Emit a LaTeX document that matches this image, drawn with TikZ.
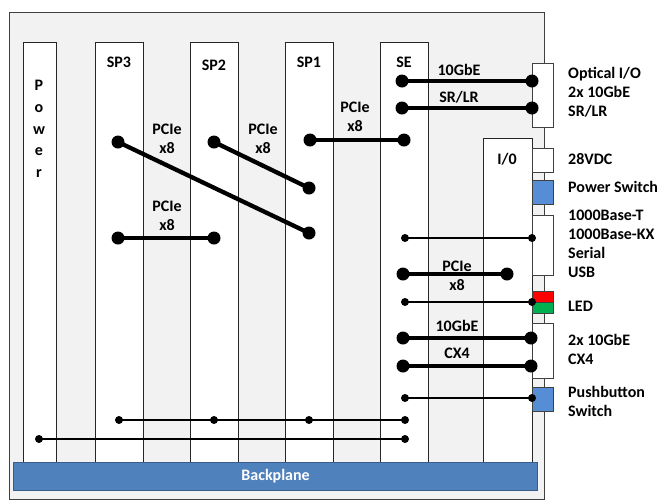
\documentclass[tikz,border=0pt]{standalone}
\usepackage{fontspec}
\setmainfont{Carlito}

\definecolor{chassis}{HTML}{F2F2F2}
\definecolor{bpblue}{HTML}{4F81BD}
\definecolor{bpedge}{HTML}{385D8A}
\definecolor{swblue}{HTML}{558ED5}
\definecolor{ledred}{HTML}{FF0000}
\definecolor{ledgreen}{HTML}{00B050}

\begin{document}
\begin{tikzpicture}[x=1pt,y=-1pt,
  font=\fontsize{16}{19}\selectfont\bfseries,
  slot/.style={draw=black!85,fill=white,line width=0.9pt,anchor=north west,inner sep=0pt},
  port/.style={draw=black!75,fill=white,line width=0.9pt,anchor=north west,inner sep=0pt,minimum width=21},
  bus/.style={line width=4.3pt},
  wire/.style={line width=1.8pt},
  txt/.style={inner sep=0pt,align=center},
  side/.style={inner sep=0pt,anchor=west,align=left}]
  \useasboundingbox (0,0) rectangle (658,499);

  % 1. The chassis
  \draw[fill=chassis,draw=black!75,line width=1pt] (9,12) rectangle (544,499);

  % 2. The slots
  \node[slot,minimum width=33,minimum height=420] (power) at (23,42) {};
  \node[slot,minimum width=48,minimum height=420] (sp3) at (95,42) {};
  \node[slot,minimum width=48,minimum height=420] (sp2) at (190,42) {};
  \node[slot,minimum width=48,minimum height=420] (sp1) at (285,42) {};
  \node[slot,minimum width=48,minimum height=420] (se) at (380,42) {};
  \node[slot,minimum width=49,minimum height=324] (io) at (483,138) {};

  \node[txt] (lsp3) at (119,62) {SP3};
  \node[txt] (lsp2) at (214,65) {SP2};
  \node[txt] (lsp1) at (309,62) {SP1};
  \node[txt] (lse) at (404,62) {SE};
  \node[txt] (lio) at (507,159) {I/0};
  \node[txt,font=\fontsize{16}{21.8}\selectfont\bfseries] (lpower) at (39,129) {P\\o\\w\\e\\r};

  % 3. The backplane
  \node[fill=bpblue,draw=bpedge,line width=1.2pt,anchor=north west,minimum width=524,minimum height=28,
    text=white,inner sep=0pt] (backplane) at (13,462) {Backplane};

  % 4. The front panel ports
  \node[port,minimum height=64] (optical) at (532,63) {};
  \node[port,minimum height=24] (dc) at (532,148) {};
  \node[port,minimum height=24,fill=swblue] (pwrsw) at (532,180) {};
  \node[port,minimum height=60] (eth) at (532,215) {};
  \node[port,minimum height=11,fill=ledred] (ledr) at (532,291) {};
  \node[port,minimum height=11,fill=ledgreen] (ledg) at (532,302) {};
  \node[port,minimum height=55] (cx4) at (532,323) {};
  \node[port,minimum height=24,fill=swblue] (push) at (532,387) {};

  \node[side] (loptical) at (568,92) {Optical I/O\\2x 10GbE\\SR/LR};
  \node[side] (ldc) at (568,159) {28VDC};
  \node[side] (lpwrsw) at (568,187) {Power Switch};
  \node[side] (leth) at (568,244) {1000Base-T\\1000Base-KX\\Serial\\USB};
  \node[side] (lled) at (568,306) {LED};
  \node[side] (lcx4) at (568,349) {2x 10GbE\\CX4};
  \node[side] (lpush) at (568,401) {Pushbutton\\Switch};

  % 5. End points of the links
  \coordinate (seA) at (402,81);   \coordinate (optA) at (532,81);
  \coordinate (seB) at (402,108);  \coordinate (optB) at (532,108);
  \coordinate (spaA) at (310,140); \coordinate (seC) at (404,140);
  \coordinate (spcA) at (118,142); \coordinate (spaC) at (309,233);
  \coordinate (spbA) at (214,142); \coordinate (spaB) at (309,188);
  \coordinate (spcB) at (118,238); \coordinate (spbB) at (214,238);
  \coordinate (seD) at (403,274);  \coordinate (ioA) at (507,274);
  \coordinate (seE) at (403,338);  \coordinate (cxA) at (531,338);
  \coordinate (seF) at (403,366);  \coordinate (cxB) at (531,366);
  \coordinate (seG) at (405,238);  \coordinate (ethA) at (532,238);
  \coordinate (seH) at (405,302);  \coordinate (ledA) at (532,302);
  \coordinate (seI) at (405,398);  \coordinate (pushA) at (532,398);
  \coordinate (spcC) at (119,420); \coordinate (spbC) at (214,420);
  \coordinate (spaD) at (309,420); \coordinate (seJ) at (405,420);
  \coordinate (pwA) at (39,439);   \coordinate (seK) at (405,439);

  % 6. The wide links (PCIe and 10GbE)
  \foreach \a/\b in {seA/optA,seB/optB,spaA/seC,spcA/spaC,spbA/spaB,spcB/spbB,seD/ioA,seE/cxA,seF/cxB}{
    \draw[bus] (\a) -- (\b);
    \fill (\a) circle (6.5);
    \fill (\b) circle (6.5);
  }

  % 7. The thin links
  \foreach \a/\b in {seG/ethA,seH/ledA,seI/pushA,pwA/seK}{
    \draw[wire] (\a) -- (\b);
    \fill (\a) circle (4);
    \fill (\b) circle (4);
  }
  \draw[wire] (spcC) -- (spbC) -- (spaD) -- (seJ);
  \foreach \p in {spcC,spbC,spaD,seJ}
    \fill (\p) circle (4);

  % 8. Link labels
  \node[txt] (l10a) at (459,70) {10GbE};
  \node[txt] (lsr) at (459,97) {SR/LR};
  \node[txt] (lpcieA) at (355,117) {PCIe\\x8};
  \node[txt] (lpcieB) at (167,139) {PCIe\\x8};
  \node[txt] (lpcieC) at (263,139) {PCIe\\x8};
  \node[txt] (lpcieD) at (167,216) {PCIe\\x8};
  \node[txt] (lpcieE) at (457,266) {PCIe};
  \node[txt] (lx8E) at (457,285) {x8};
  \node[txt] (l10b) at (457,326) {10GbE};
  \node[txt] (lcx) at (457,353) {CX4};
\end{tikzpicture}
\end{document}
